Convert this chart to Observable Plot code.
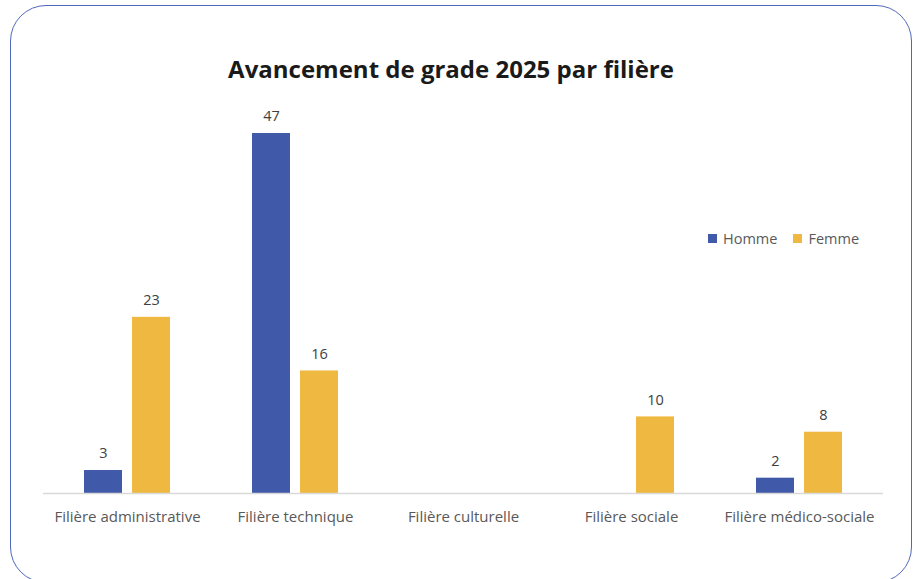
<!DOCTYPE html>
<html>
<head>
<meta charset="utf-8">
<script src="https://cdn.jsdelivr.net/npm/d3@7"></script>
<script src="https://cdn.jsdelivr.net/npm/@observablehq/plot@0.6"></script>
<style>
  html, body { margin: 0; padding: 0; background: #fff; width: 917px; height: 579px; overflow: hidden; }
  #wrap { position: relative; width: 917px; height: 579px; }
  #frame { position: absolute; left: 10px; top: 5px; width: 900px; height: 576px; border: 1.5px solid #5068b8; border-radius: 36px; pointer-events: none; }
  #title { position: absolute; left: 0; width: 902px; top: 52px; text-align: center; font-family: "Open Sans", sans-serif; font-weight: 700; font-size: 24px; color: #1a1a1a; }
  #legend { position: absolute; left: 708px; top: 229px; font-family: "Open Sans", sans-serif; font-size: 14.5px; color: #595959; display: flex; align-items: center; }
  #legend .sw { width: 9px; height: 9px; display: inline-block; margin-right: 6px; }
  #legend .item { display: flex; align-items: center; margin-right: 16px; }
  #chart { position: absolute; left: 0; top: 0; }
</style>
</head>
<body>
<div id="wrap">
  <div id="chart"></div>
  <div id="title"></div>
  <div id="legend"></div>
  <div id="frame"></div>
</div>
<script>
const title = "Avancement de grade 2025 par filière";
const categories = ["Filière administrative", "Filière technique", "Filière culturelle", "Filière sociale", "Filière médico-sociale"];
const series = ["Homme", "Femme"];
const homme = [3, 47, null, null, 2];
const femme = [23, 16, null, 10, 8];
const colors = ["#4059a8", "#efb840"];

const data = categories.flatMap((c, i) => [
  {filiere: c, sexe: "Homme", value: homme[i]},
  {filiere: c, sexe: "Femme", value: femme[i]}
]).filter(d => d.value != null);

document.getElementById("title").textContent = title;
const legend = document.getElementById("legend");
series.forEach((s, i) => {
  const item = document.createElement("span");
  item.className = "item";
  const sw = document.createElement("span");
  sw.className = "sw";
  sw.style.background = colors[i];
  item.appendChild(sw);
  item.appendChild(document.createTextNode(s));
  legend.appendChild(item);
});

const chart = Plot.plot({
  width: 917,
  height: 579,
  marginTop: 133,
  marginBottom: 86,
  marginLeft: 41,
  marginRight: 33,
  style: {fontFamily: "'Open Sans', sans-serif", fontSize: "15px", background: "transparent"},
  fx: {domain: categories, padding: 0, label: null},
  x: {domain: series, axis: null, paddingInner: 0.208, paddingOuter: 0.84},
  y: {domain: [0, 47], axis: null},
  color: {domain: series, range: colors},
  marks: [
    Plot.axisFx({anchor: "bottom", tickSize: 0, tickPadding: 18, fontSize: 15, fill: "#595959", label: null}),
    Plot.barY(data, {fx: "filiere", x: "sexe", y: "value", fill: "sexe"}),
    Plot.ruleY(categories, {fx: d => d, y: 0, stroke: "#d9d9d9", strokeWidth: 1.5}),
    Plot.text(data, {fx: "filiere", x: "sexe", y: "value", text: d => String(d.value), dy: -17, fill: "#404040", fontSize: 14.5})
  ]
});
document.getElementById("chart").appendChild(chart);
</script>
</body>
</html>
